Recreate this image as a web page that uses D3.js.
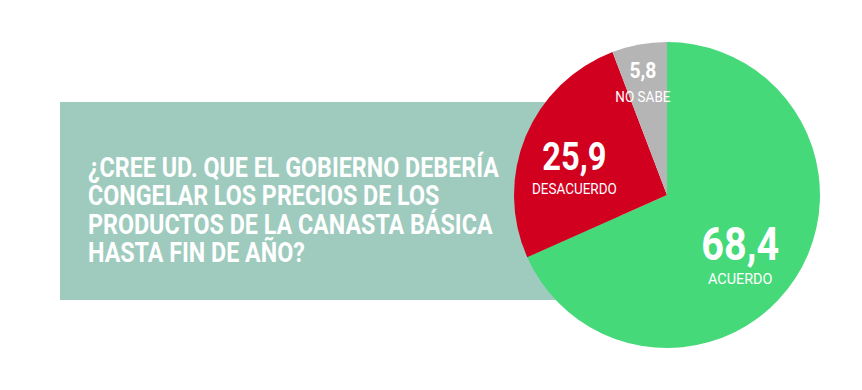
<!DOCTYPE html>
<html>
<head>
<meta charset="utf-8">
<script src="https://cdn.jsdelivr.net/npm/d3@7"></script>
<style>
  body { margin: 0; background: #fff; }
  text { font-family: "Roboto", "Liberation Sans", sans-serif; font-weight: bold; fill: #fff; }
</style>
</head>
<body>
<svg id="chart"></svg>
<script>
var categories = ["ACUERDO", "DESACUERDO", "NO SABE"];
var values = [68.4, 25.9, 5.8];
var valueLabels = ["68,4", "25,9", "5,8"];
var colors = ["#45d97a", "#d2001f", "#b5b5b5"];
var question = [
  "¿CREE UD. QUE EL GOBIERNO DEBERÍA",
  "CONGELAR LOS PRECIOS DE LOS",
  "PRODUCTOS DE LA CANASTA BÁSICA",
  "HASTA FIN DE AÑO?"
];

var width = 862, height = 390;
var svg = d3.select("#chart")
  .attr("width", width)
  .attr("height", height);

// question box (goes behind the pie)
svg.append("rect")
  .attr("x", 60)
  .attr("y", 102)
  .attr("width", 560)
  .attr("height", 198)
  .style("fill", "#9ecbbe");

var q = svg.append("g");
q.selectAll("text")
  .data(question)
  .enter().append("text")
  .attr("x", 0)
  .attr("y", function(d, i){ return i * 28.3; })
  .style("font-size", "27px")
  .text(function(d){ return d; });
// squeeze the text to match the condensed face
var w0 = q.select("text").node().getComputedTextLength();
var sx = 411 / w0;
q.attr("transform", "translate(88,177) scale(" + sx + ",1)");

// pie
var cx = 667, cy = 195, r = 153;
var pie = d3.pie().sort(null).value(function(d){ return d; });
var arc = d3.arc().innerRadius(0).outerRadius(r);
var arcs = pie(values);

var g = svg.append("g").attr("transform", "translate(" + cx + "," + cy + ")");
g.selectAll("path")
  .data(arcs)
  .enter().append("path")
  .attr("d", arc)
  .style("fill", function(d, i){ return colors[i]; });

// labels: block centred near each slice's centroid
var labelR = [0.62, 0.63, 0.755];
var labelRot = [6.5, -6.6, -1.6];   // degrees nudge from mid angle
var numSize = [46, 38, 22.5];
var catSize = [15.5, 14.5, 14.5];
var gap = 13, capK = 0.711;

var lbl = g.selectAll("g.lbl")
  .data(arcs)
  .enter().append("g")
  .attr("class", "lbl")
  .attr("transform", function(d, i){
    var rot = labelRot[i] * Math.PI / 180;
    var a = d3.arc().innerRadius(r * labelR[i]).outerRadius(r * labelR[i]);
    var c = a.centroid({startAngle: d.startAngle + rot, endAngle: d.endAngle + rot});
    return "translate(" + c + ")";
  });
function blockH(i) { return numSize[i] * capK + gap + catSize[i] * capK; }
lbl.append("text")
  .attr("text-anchor", "middle")
  .attr("transform", function(d, i){
    return "translate(0," + (-blockH(i) / 2 + numSize[i] * capK) + ") scale(0.86,1)";
  })
  .style("font-size", function(d, i){ return numSize[i] + "px"; })
  .text(function(d, i){ return valueLabels[i]; });
lbl.append("text")
  .attr("text-anchor", "middle")
  .attr("transform", function(d, i){
    return "translate(0," + (blockH(i) / 2) + ") scale(0.93,1)";
  })
  .style("font-size", function(d, i){ return catSize[i] + "px"; })
  .style("font-weight", "normal")
  .text(function(d, i){ return categories[i]; });
</script>
</body>
</html>
